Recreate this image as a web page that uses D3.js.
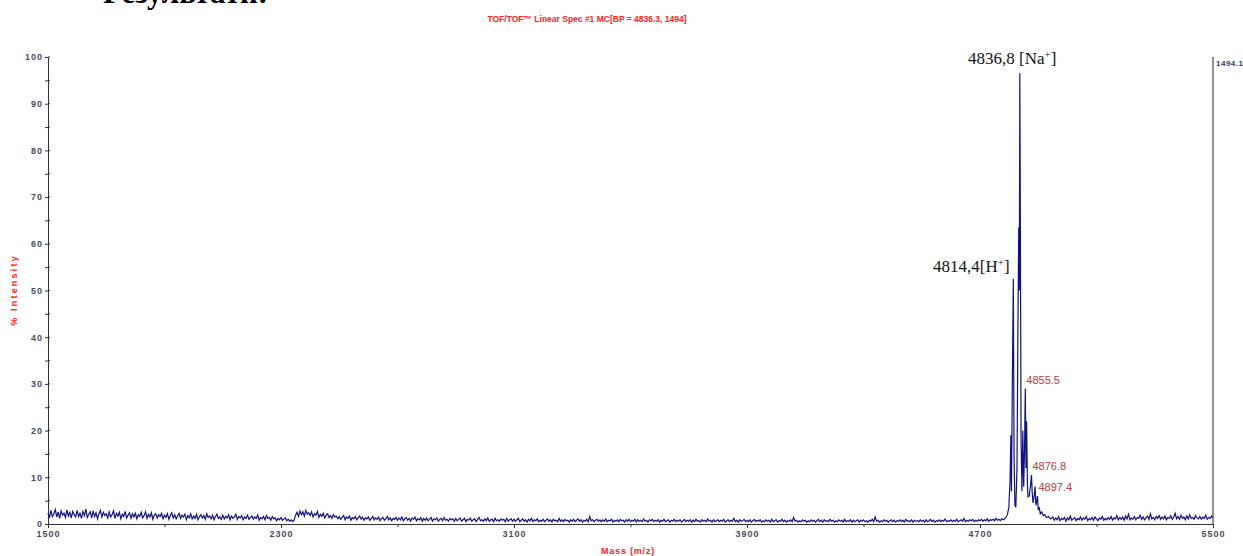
<!DOCTYPE html>
<html>
<head>
<meta charset="utf-8">
<script src="https://cdn.jsdelivr.net/npm/d3@7/dist/d3.min.js"></script>
<style>
	body { margin: 0; background: #fff; }
	svg { display: block; }
	.tick text { font-family: 'Liberation Sans Narrow', 'Arial Narrow', sans-serif; font-size: 9px; font-weight: bold; fill: #4a4a5a; letter-spacing: 1px; }
	.domain, .tick line { stroke: #333; }
</style>
</head>
<body>
<svg></svg>
<script>
const width = 1243;
const height = 556;

// spectrum baseline, sampled every 5 m/z
const baseStart = 1500;
const baseStep = 5;
const baseline = [
	2.4, 1.3, 2.9, 1.6, 2.2, 3.1, 1.5, 2.6, 1.2, 2.8, 1.9, 2.3, 1.4, 3.0, 1.7, 2.5, 1.3, 2.7, 2.0, 1.5,
	2.9, 1.6, 2.3, 1.2, 2.7, 1.8, 3.2, 1.4, 2.1, 2.6, 1.3, 2.8, 1.6, 2.4, 1.1, 2.2, 2.9, 1.5, 2.5, 1.8,
	2.2, 1.3, 2.6, 1.5, 2.0, 2.8, 1.2, 2.3, 1.7, 2.5, 1.1, 2.1, 1.6, 2.7, 1.3, 1.9, 2.4, 1.2, 2.2, 1.5,
	2.3, 1.1, 2.0, 1.6, 2.5, 1.3, 1.8, 2.6, 1.2, 2.1, 1.5, 2.4, 1.0, 1.9, 2.2, 1.3, 2.0, 1.6, 2.3, 1.1,
	1.9, 1.4, 2.2, 1.0, 1.8, 2.4, 1.3, 2.0, 1.1, 1.7, 2.3, 1.2, 1.9, 1.5, 2.1, 0.9, 1.8, 1.3, 2.2, 1.1,
	1.7, 1.2, 2.1, 0.9, 1.6, 2.0, 1.3, 1.8, 1.0, 2.2, 1.4, 1.7, 1.1, 1.9, 0.9, 1.6, 2.1, 1.2, 1.5, 1.0,
	1.9, 1.1, 1.6, 1.3, 2.0, 0.9, 1.7, 1.2, 1.5, 2.1, 1.0, 1.6, 1.3, 1.8, 0.9, 1.5, 1.2, 1.9, 1.0, 1.4,
	1.7, 1.0, 1.5, 1.2, 1.9, 0.8, 1.4, 1.1, 1.6, 0.9, 1.8, 1.2, 1.4, 0.8, 1.6, 1.1, 1.3, 0.7, 1.2, 0.9,
	1.4, 0.8, 1.1, 1.3, 0.7, 1.0, 0.6, 0.9, 0.5, 0.8, 1.9, 2.5, 1.6, 2.8, 2.0, 2.6, 1.7, 2.9, 2.1, 2.4,
	1.8, 2.6, 1.5, 2.2, 1.9, 2.7, 1.4, 2.1, 1.6, 2.3, 1.3, 1.9, 2.2, 1.4, 1.8, 1.2, 2.0, 1.5, 1.7, 1.1,
	1.6, 1.0, 1.4, 1.8, 0.9, 1.5, 1.2, 1.7, 0.8, 1.4, 1.1, 1.6, 0.9, 1.3, 1.7, 1.0, 1.5, 0.8, 1.3, 1.1,
	1.5, 0.8, 1.2, 1.6, 0.9, 1.3, 1.0, 1.5, 0.7, 1.2, 1.4, 0.8, 1.1, 1.6, 0.9, 1.3, 0.7, 1.2, 1.0, 1.4,
	0.8, 1.3, 0.9, 1.5, 0.7, 1.1, 1.4, 0.8, 1.2, 0.6, 1.3, 1.0, 1.5, 0.7, 1.1, 0.9, 1.4, 0.6, 1.2, 0.8,
	1.3, 0.7, 1.0, 1.4, 0.6, 1.1, 0.9, 1.3, 0.6, 1.0, 1.2, 0.7, 1.4, 0.8, 1.0, 0.6, 1.2, 0.9, 1.1, 0.6,
	1.2, 0.7, 1.0, 1.3, 0.6, 0.9, 1.2, 0.5, 1.0, 0.8, 1.3, 0.6, 0.9, 1.1, 0.5, 1.0, 1.4, 0.7, 0.9, 0.6,
	1.1, 0.7, 1.3, 0.6, 0.9, 1.0, 0.5, 1.2, 0.7, 0.9, 0.6, 1.1, 0.8, 1.0, 0.5, 1.2, 0.6, 0.9, 1.1, 0.6,
	1.0, 0.6, 0.9, 1.2, 0.5, 0.8, 1.1, 0.6, 0.9, 0.4, 1.0, 0.7, 1.2, 0.5, 0.9, 0.7, 1.1, 0.5, 0.8, 0.6,
	1.0, 0.5, 0.8, 1.1, 0.6, 0.9, 0.4, 1.0, 0.7, 0.8, 0.5, 1.2, 0.6, 0.9, 0.5, 1.0, 0.7, 0.8, 0.4, 0.9,
	0.6, 1.0, 0.5, 0.8, 1.1, 0.6, 0.9, 0.4, 0.8, 0.6, 1.0, 0.5, 1.6, 0.7, 0.9, 0.5, 0.8, 1.0, 0.6, 0.9,
	0.5, 0.9, 0.6, 1.1, 0.5, 0.8, 0.7, 1.0, 0.4, 0.8, 0.6, 0.9, 0.5, 1.0, 0.7, 0.8, 0.4, 0.9, 0.6, 1.0,
	0.5, 0.8, 0.6, 1.0, 0.4, 0.9, 0.6, 0.8, 0.5, 1.1, 0.6, 0.8, 0.4, 0.9, 0.7, 1.0, 0.5, 0.8, 0.6, 0.9,
	0.4, 0.8, 0.6, 1.0, 0.5, 0.7, 0.9, 0.4, 0.8, 0.6, 1.0, 0.5, 0.8, 0.6, 0.9, 0.4, 0.7, 1.0, 0.5, 0.8,
	0.6, 0.9, 0.4, 0.8, 0.5, 1.0, 0.6, 0.7, 0.4, 0.9, 0.6, 0.8, 0.5, 1.1, 0.6, 0.8, 0.4, 0.9, 0.5, 0.7,
	0.9, 0.5, 0.8, 0.6, 1.0, 0.4, 0.7, 0.9, 0.5, 0.8, 0.6, 1.2, 0.5, 0.8, 0.4, 0.9, 0.6, 0.7, 1.0, 0.5,
	0.8, 0.5, 0.9, 0.4, 0.7, 1.0, 0.5, 0.8, 0.6, 0.9, 0.4, 0.7, 0.5, 0.9, 0.6, 0.8, 0.4, 1.0, 0.5, 0.7,
	0.9, 0.4, 0.7, 0.6, 1.0, 0.5, 0.8, 0.4, 0.7, 0.6, 0.9, 0.5, 1.4, 0.6, 0.8, 0.4, 0.7, 0.5, 0.9, 0.6,
	0.8, 0.4, 0.7, 0.5, 0.9, 0.6, 0.8, 0.4, 0.7, 1.0, 0.5, 0.8, 0.4, 0.9, 0.6, 0.7, 0.5, 1.0, 0.6, 0.8,
	0.4, 0.7, 0.5, 0.9, 0.6, 0.8, 0.4, 1.0, 0.5, 0.7, 0.6, 0.9, 0.4, 0.8, 0.5, 0.7, 0.9, 0.4, 0.8, 0.6,
	0.9, 0.5, 0.7, 0.4, 0.8, 0.6, 1.0, 0.5, 1.5, 0.6, 0.8, 0.4, 0.7, 0.5, 0.9, 0.6, 0.8, 0.4, 0.7, 0.9,
	0.5, 0.8, 0.4, 0.7, 0.6, 0.9, 0.5, 0.8, 0.4, 1.0, 0.6, 0.7, 0.5, 0.9, 0.4, 0.8, 0.6, 0.7, 0.5, 0.9,
	0.6, 0.8, 0.4, 0.9, 0.5, 0.7, 1.0, 0.5, 0.8, 0.4, 0.7, 0.6, 0.9, 0.5, 0.8, 0.6, 1.1, 0.5, 0.7, 0.6,
	0.9, 0.5, 0.8, 0.6, 1.0, 0.5, 0.7, 0.9, 0.6, 1.2, 0.5, 0.8, 0.6, 0.9, 0.7, 1.0, 0.5, 0.8, 0.6, 0.9,
	0.7, 1.0, 0.6, 0.9, 0.7, 1.1, 0.6, 0.9, 0.8, 1.0, 0.7, 1.2, 0.8, 1.0, 0.7, 1.1
];

// peak cluster [m/z, %]
const peakPoints = [
	[4780, 0.9], [4788, 1.3], [4794, 2.0], [4799, 3.5], [4803, 9], [4806, 19], [4808, 7],
	[4811, 30], [4814.4, 52.5], [4817, 14], [4820, 4], [4823, 3.6], [4827, 12], [4830, 40],
	[4833, 63.5], [4835, 50], [4836.8, 96.5], [4838.5, 66], [4841, 18], [4844, 7], [4847, 20],
	[4850, 8], [4853, 16], [4855.5, 29], [4858, 12], [4860, 22], [4863, 8], [4865, 5.8],
	[4869, 6], [4873, 8], [4876.8, 10.5], [4879, 7], [4882, 4.5], [4886, 6], [4889, 8],
	[4892, 4], [4895, 5], [4897.4, 6], [4900, 3], [4903, 3.6], [4907, 2.2], [4912, 2.6],
	[4917, 1.8], [4922, 2.0], [4928, 1.4], [4935, 1.6], [4942, 1.1]
];

// tail after the cluster, every 5 m/z from 4950
const tailStart = 4950;
const tail = [
	1.5, 0.8, 1.3, 0.9, 1.6, 0.7, 1.2, 1.0, 1.4, 0.6, 1.3, 0.9, 1.7, 0.8, 1.1, 1.4, 0.7, 1.2, 0.9, 1.5,
	0.8, 1.3, 1.0, 1.6, 0.7, 1.2, 0.9, 1.4, 0.8, 1.5, 1.1, 0.7, 1.3, 1.0, 1.6, 0.8, 1.2, 0.9, 1.4, 1.0,
	1.6, 0.8, 1.3, 1.1, 1.8, 0.9, 1.4, 1.0, 1.5, 0.8, 1.7, 1.1, 2.1, 0.9, 1.3, 1.0, 1.6, 0.9, 1.4, 1.2,
	1.9, 1.0, 1.5, 0.9, 1.3, 1.7, 1.0, 2.2, 1.1, 1.4, 0.9, 1.6, 1.2, 1.8, 1.0, 1.5, 1.1, 1.7, 0.9, 1.4,
	1.2, 1.8, 1.0, 1.5, 2.3, 1.1, 1.6, 1.0, 1.9, 1.2, 1.5, 0.9, 1.7, 1.1, 2.0, 1.2, 1.4, 1.0, 1.8, 1.3,
	1.1, 1.6, 1.0, 1.5, 1.2, 1.9, 1.0, 1.4, 1.2, 1.7, 1.3
];

const xMajor = [1500, 2300, 3100, 3900, 4700, 5500];
const xMinor = [1900, 2700, 3500, 4300, 5100];
const yMajor = [0, 10, 20, 30, 40, 50, 60, 70, 80, 90, 100];
const yMinor = [5, 15, 25, 35, 45, 55, 65, 75, 85, 95];

const peakLabels = [
	{ mz: '4855.5', at: 4855.5, v: 29 },
	{ mz: '4876.8', at: 4876.8, v: 10.5 },
	{ mz: '4897.4', at: 4897.4, v: 6 }
];

const spectrum = baseline
	.map((v, i) => [baseStart + i * baseStep, v])
	.concat(peakPoints)
	.concat(tail.map((v, i) => [tailStart + i * baseStep, v]));

const svg = d3.select('svg').attr('width', width).attr('height', height);

const x = d3.scaleLinear().domain([1500, 5500]).range([48, 1213]);
const y = d3.scaleLinear().domain([0, 100]).range([524, 57]);

// cut-off heading from the page above
svg
	.append('text')
	.attr('x', 103)
	.attr('y', 3)
	.style('font-family', "'Liberation Serif', serif")
	.style('font-size', '31px')
	.style('font-weight', 'bold')
	.text('Результати:');

svg
	.append('text')
	.attr('x', 587)
	.attr('y', 22)
	.attr('text-anchor', 'middle')
	.style('font-family', "'Liberation Sans Narrow', 'Arial Narrow', sans-serif")
	.style('font-size', '8.5px')
	.style('font-weight', 'bold')
	.style('fill', '#ff2020')
	.text('TOF/TOF\u2122 Linear Spec #1 MC[BP = 4836.3, 1494]');

// axes
svg
	.append('g')
	.attr('transform', 'translate(0,524)')
	.call(d3.axisBottom(x).tickValues(xMajor).tickSize(4).tickPadding(3).tickFormat((d) => d));

svg
	.append('g')
	.attr('transform', 'translate(0,524)')
	.call(d3.axisBottom(x).tickValues(xMinor).tickSize(3).tickFormat(''))
	.select('.domain')
	.remove();

svg
	.append('g')
	.attr('transform', 'translate(48,0)')
	.call(d3.axisLeft(y).tickValues(yMajor).tickSize(3).tickPadding(2).tickFormat((d) => d));

svg
	.append('g')
	.attr('transform', 'translate(48,0)')
	.call(d3.axisLeft(y).tickValues(yMinor).tickSize(3).tickFormat(''))
	.select('.domain')
	.remove();

// ticks cross the y axis a little
svg
	.append('g')
	.selectAll('line')
	.data(yMajor.concat(yMinor))
	.enter()
	.append('line')
	.attr('x1', 48)
	.attr('x2', 50)
	.attr('y1', (d) => y(d))
	.attr('y2', (d) => y(d))
	.attr('stroke', '#333');

// right frame line
svg
	.append('line')
	.attr('x1', x(5500))
	.attr('x2', x(5500))
	.attr('y1', y(100))
	.attr('y2', y(0))
	.attr('stroke', '#555')
	.attr('stroke-width', 1.3);

svg
	.append('text')
	.attr('x', x(5500) + 3)
	.attr('y', y(100) + 9)
	.style('font-family', "'Liberation Sans Narrow', 'Arial Narrow', sans-serif")
	.style('font-size', '8px')
	.style('font-weight', 'bold')
	.style('fill', '#3a3a5a')
	.style('letter-spacing', '0.5px')
	.text('1494.1');

// spectrum trace
const line = d3
	.line()
	.x((d) => x(d[0]))
	.y((d) => y(d[1]));

svg
	.append('path')
	.datum(spectrum)
	.attr('d', line)
	.attr('fill', 'none')
	.attr('stroke', '#12127e')
	.attr('stroke-width', 1.2);

// axis titles
svg
	.append('text')
	.attr('transform', 'translate(17,290) rotate(-90)')
	.attr('text-anchor', 'middle')
	.style('font-family', "'Liberation Sans Narrow', 'Arial Narrow', sans-serif")
	.style('font-size', '9px')
	.style('font-weight', 'bold')
	.style('letter-spacing', '2.2px')
	.style('fill', '#ff2020')
	.text('% Intensity');

svg
	.append('text')
	.attr('x', 628)
	.attr('y', 554)
	.attr('text-anchor', 'middle')
	.style('font-family', "'Liberation Sans Narrow', 'Arial Narrow', sans-serif")
	.style('font-size', '9px')
	.style('font-weight', 'bold')
	.style('letter-spacing', '0.8px')
	.style('fill', '#ff2020')
	.text('Mass (m/z)');

// small peak labels
svg
	.append('g')
	.selectAll('text')
	.data(peakLabels)
	.enter()
	.append('text')
	.attr('x', (d) => x(d.at) + 1)
	.attr('y', (d) => y(d.v) - 5)
	.style('font-family', "'Liberation Sans Narrow', 'Arial Narrow', sans-serif")
	.style('font-size', '11px')
	.style('fill', '#b04040')
	.text((d) => d.mz);

// main annotations
const serif = "'Liberation Serif', 'Times New Roman', serif";
const na = svg
	.append('text')
	.attr('x', 968)
	.attr('y', 64)
	.style('font-family', serif)
	.style('font-size', '17px')
	.style('fill', '#111');
na.append('tspan').text('4836,8 [Na');
na.append('tspan').attr('dy', -6).style('font-size', '11px').text('+');
na.append('tspan').attr('dy', 6).text(']');

const h = svg
	.append('text')
	.attr('x', 933)
	.attr('y', 272)
	.style('font-family', serif)
	.style('font-size', '17px')
	.style('fill', '#111');
h.append('tspan').text('4814,4[H');
h.append('tspan').attr('dy', -6).style('font-size', '11px').text('+');
h.append('tspan').attr('dy', 6).text(']');
</script>
</body>
</html>
